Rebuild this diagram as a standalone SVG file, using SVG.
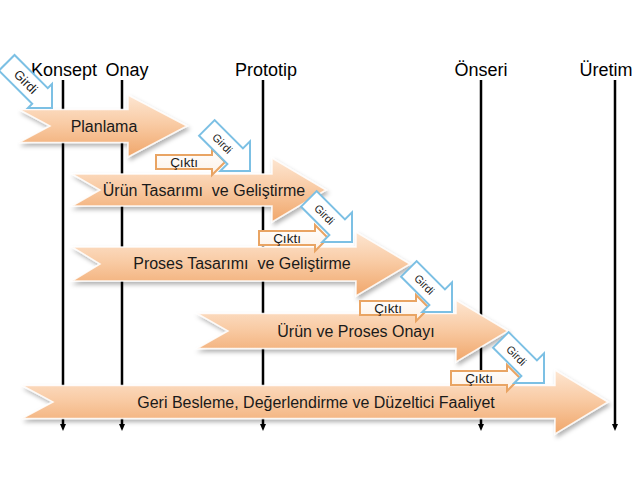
<svg xmlns="http://www.w3.org/2000/svg" width="640" height="480" viewBox="0 0 640 480">
  <defs>
    <linearGradient id="og" x1="0" y1="0" x2="0" y2="1">
      <stop offset="0" stop-color="#fde6d2"/>
      <stop offset="0.45" stop-color="#f9cca6"/>
      <stop offset="1" stop-color="#f0a66a"/>
    </linearGradient>
    <linearGradient id="cg" x1="0" y1="0" x2="0" y2="1">
      <stop offset="0" stop-color="#ffffff"/>
      <stop offset="1" stop-color="#fdf1e6"/>
    </linearGradient>
    <filter id="sh" x="-10%" y="-30%" width="125%" height="170%">
      <feDropShadow dx="2" dy="3" stdDeviation="2" flood-color="#000" flood-opacity="0.3"/>
    </filter>
    <marker id="ah" viewBox="0 0 8 8" refX="0" refY="4" markerWidth="7" markerHeight="6" markerUnits="userSpaceOnUse" orient="auto" preserveAspectRatio="none">
      <path d="M0,0 L8,4 L0,8 Z" fill="#000"/>
    </marker>
    <path id="girdi" d="M0,0 L-21,21 L-21,11 L-61,11 L-61,-11 L-21,-11 L-21,-21 Z"/>
    <path id="cikti" d="M0,0 L-13,13 L-13,7 L-69,7 L-69,-7 L-13,-7 L-13,-13 Z"/>
  </defs>
  <style>
    .lbl { font-family: "Liberation Sans", Arial, sans-serif; font-size: 18px; fill: #000; text-anchor: middle; }
    .big { fill: url(#og); stroke: #ffffff; stroke-opacity: 0.85; stroke-width: 1.5; filter: url(#sh); }
    .bt { font-family: "Liberation Sans", Arial, sans-serif; font-size: 16px; fill: #1a1a1a; text-anchor: middle; white-space: pre; }
    .vl { stroke: #000; stroke-width: 2.5; fill: none; }
    .gd { fill: #ffffff; stroke: #7cc0e4; stroke-width: 2; }
    .gt { font-family: "Liberation Sans", Arial, sans-serif; font-size: 11px; fill: #1a1a1a; text-anchor: middle; }
    .ck { fill: url(#cg); stroke: #e9a463; stroke-width: 2; }
    .ct { font-family: "Liberation Sans", Arial, sans-serif; font-size: 13.5px; fill: #1a1a1a; text-anchor: middle; }
  </style>
  <rect width="640" height="480" fill="#fff"/>

  <g id="milestones">
    <text class="lbl" x="64" y="76">Konsept</text>
    <text class="lbl" x="127" y="76">Onay</text>
    <text class="lbl" x="266" y="76">Prototip</text>
    <text class="lbl" x="481" y="76">Önseri</text>
    <text class="lbl" x="606" y="76">Üretim</text>
  </g>

  <g id="connectors">
    <line class="vl" x1="63" y1="80" x2="63" y2="424" marker-end="url(#ah)"/>
    <line class="vl" x1="122" y1="80" x2="122" y2="424" marker-end="url(#ah)"/>
    <line class="vl" x1="263" y1="80" x2="263" y2="424" marker-end="url(#ah)"/>
    <line class="vl" x1="481" y1="80" x2="481" y2="424" marker-end="url(#ah)"/>
    <line class="vl" x1="615" y1="80" x2="615" y2="424" marker-end="url(#ah)"/>
  </g>

  <g id="planlama">
    <path class="big" d="M19,109.5 L128,109.5 L128,95 L187,126 L128,157 L128,142.5 L19,142.5 L50,126 Z"/>
    <text class="bt" x="104" y="131.5">Planlama</text>
  </g>
  <g id="urun-tasarimi">
    <path class="big" d="M72,174 L272,174 L272,158 L326,190 L272,222 L272,206 L72,206 L100,190 Z"/>
    <text class="bt" x="204" y="195.5">Ürün Tasarımı  ve Geliştirme</text>
  </g>
  <g id="proses-tasarimi">
    <path class="big" d="M72,247 L356,247 L356,232 L410,264 L356,296 L356,281 L72,281 L100,264 Z"/>
    <text class="bt" x="242" y="269">Proses Tasarımı  ve Geliştirme</text>
  </g>
  <g id="onay">
    <path class="big" d="M197,313.5 L456,313.5 L456,300 L508,331 L456,362 L456,348.5 L197,348.5 L228,331 Z"/>
    <text class="bt" x="356" y="337">Ürün ve Proses Onayı</text>
  </g>
  <g id="geri-besleme">
    <path class="big" d="M22,385.5 L555,385.5 L555,370 L608,402 L555,434 L555,418.5 L22,418.5 L53,402 Z"/>
    <text class="bt" x="316" y="408">Geri Besleme, Değerlendirme ve Düzeltici Faaliyet</text>
  </g>

  <g id="girdi-1" transform="translate(52,108) rotate(45)">
    <path class="gd" d="M0,0 L-17,17 L-17,11 L-64,11 L-64,-11 L-17,-11 L-17,-17 Z"/>
    <text class="gt" x="-37" y="4.5" style="font-size:13px">Girdi</text>
  </g>

  <g id="cikti-1" transform="translate(225,162)">
    <use href="#cikti" class="ck"/>
    <text class="ct" x="-41" y="4.5">Çıktı</text>
  </g>
  <g id="girdi-2" transform="translate(250,171) rotate(45)">
    <use href="#girdi" class="gd"/>
    <text class="gt" x="-39" y="4">Girdi</text>
  </g>

  <g id="cikti-2" transform="translate(328,238)">
    <use href="#cikti" class="ck"/>
    <text class="ct" x="-41" y="4.5">Çıktı</text>
  </g>
  <g id="girdi-3" transform="translate(352,242) rotate(45)">
    <use href="#girdi" class="gd"/>
    <text class="gt" x="-39" y="4">Girdi</text>
  </g>

  <g id="cikti-3" transform="translate(429,308)">
    <use href="#cikti" class="ck"/>
    <text class="ct" x="-41" y="4.5">Çıktı</text>
  </g>
  <g id="girdi-4" transform="translate(452,312) rotate(45)">
    <use href="#girdi" class="gd"/>
    <text class="gt" x="-39" y="4">Girdi</text>
  </g>

  <g id="cikti-4" transform="translate(520,378)">
    <use href="#cikti" class="ck"/>
    <text class="ct" x="-41" y="4.5">Çıktı</text>
  </g>
  <g id="girdi-5" transform="translate(544,383) rotate(45)">
    <use href="#girdi" class="gd"/>
    <text class="gt" x="-39" y="4">Girdi</text>
  </g>
</svg>
